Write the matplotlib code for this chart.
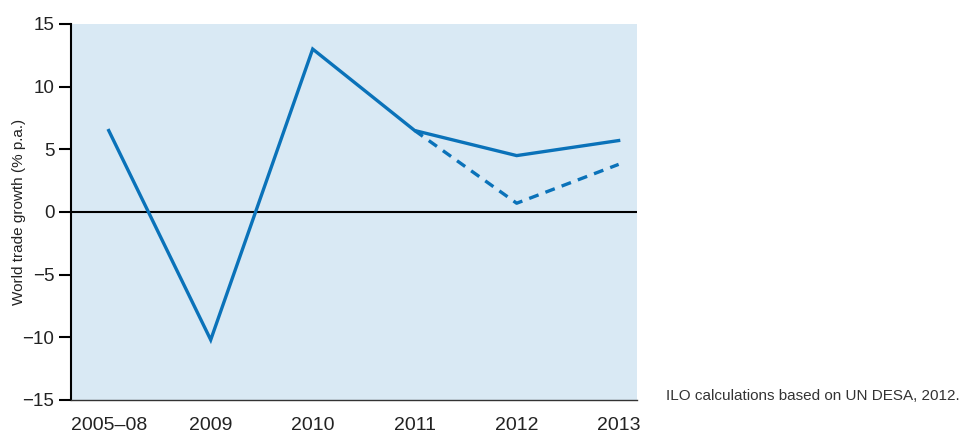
import matplotlib
matplotlib.use("Agg")
import matplotlib.pyplot as plt

categories = ["2005–08", "2009", "2010", "2011", "2012", "2013"]
solid_values = [6.5, -10.2, 13.0, 6.5, 4.5, 5.7]
dashed_cats = ["2011", "2012", "2013"]
dashed_values = [6.5, 0.7, 3.8]
yticks = [-15, -10, -5, 0, 5, 10, 15]
ytick_labels = ["−15", "−10", "−5", "0", "5", "10", "15"]

plt.rcParams['font.family'] = ['Liberation Sans', 'DejaVu Sans']
color = "#0a72b9"

fig = plt.figure(figsize=(9.63, 4.32), dpi=100)
ax = fig.add_axes([71/963, 32/432, (637-71)/963, (400-24)/432])
ax.set_facecolor("#d9e9f4")

xs = list(range(len(categories)))
ax.plot(xs, solid_values, color=color, lw=2.4, solid_joinstyle='miter', zorder=3)
dx = [categories.index(c) for c in dashed_cats]
ax.plot(dx, dashed_values, color=color, lw=2.4, ls=(0, (3, 2.2)), zorder=3)
ax.axhline(0, color="black", lw=1.5, zorder=2)

ax.set_xlim(-0.37, 5.18)
ax.set_ylim(-15, 15)
ax.set_xticks(xs)
ax.set_xticklabels(categories, fontsize=14, color="#222222")
ax.tick_params(axis='x', length=0, pad=12)
ax.set_yticks(yticks)
ax.set_yticklabels(ytick_labels, fontsize=13.5, color="#222222")
ax.tick_params(axis='y', length=9, width=1.5, pad=3, direction='out')

for s in ["top", "right"]:
    ax.spines[s].set_visible(False)
ax.spines["left"].set_linewidth(1.5)
ax.spines["bottom"].set_linewidth(1.0)
ax.spines["bottom"].set_color("#333333")

ax.set_ylabel("World trade growth (% p.a.)", fontsize=11, color="#222222")
ax.yaxis.set_label_coords((26-71)/566, 0.5)

fig.text(666/963, 1 - 396/432, "ILO calculations based on UN DESA, 2012.", fontsize=11,
         color="#333333", va="center", ha="left")

fig.savefig("out.png", dpi=100)
